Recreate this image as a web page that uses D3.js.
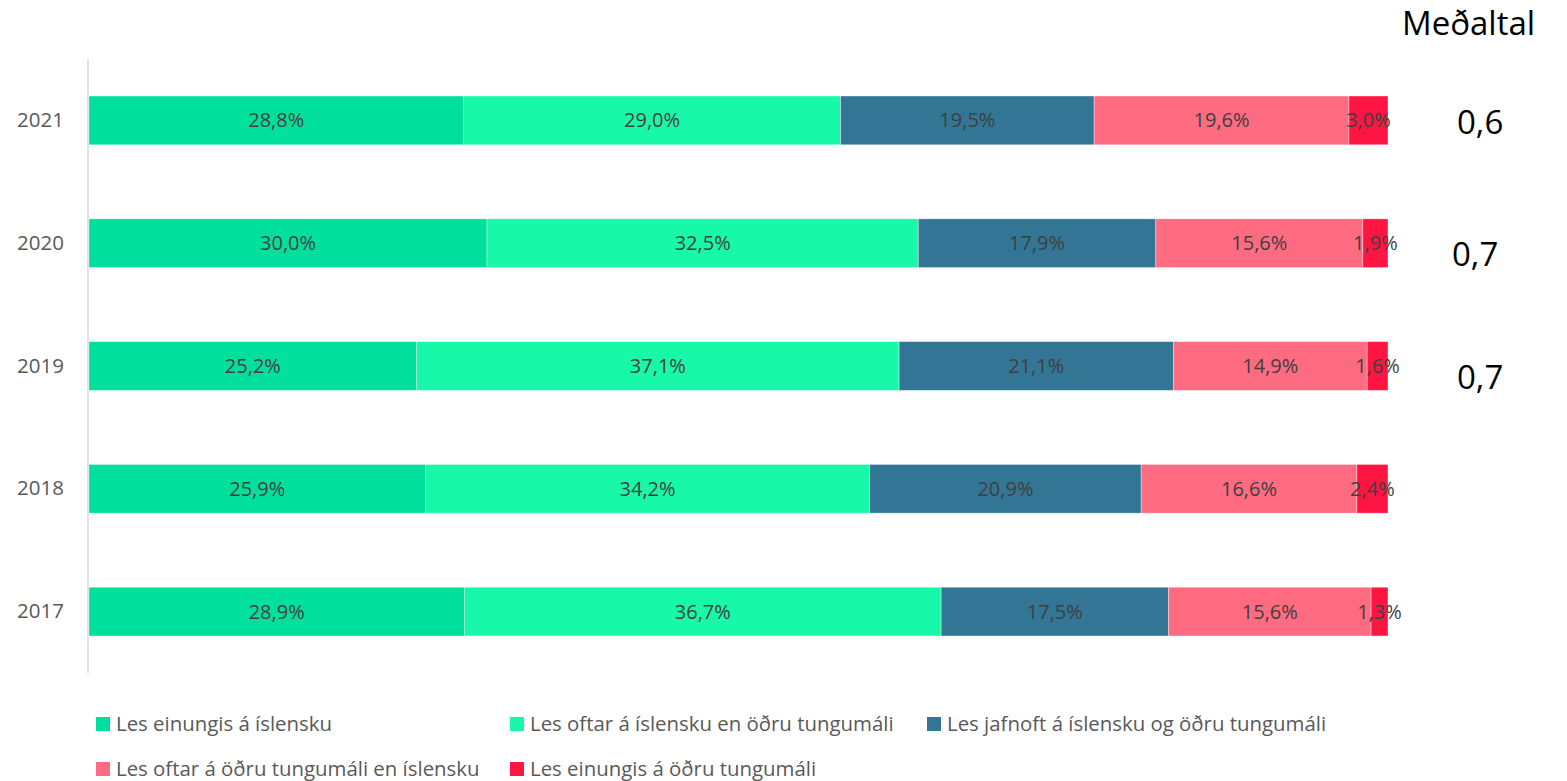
<!DOCTYPE html>
<html>
<head>
<meta charset="utf-8">
<script src="https://cdn.jsdelivr.net/npm/d3@7"></script>
<style>
  html, body { margin: 0; padding: 0; background: #fff; }
  svg { display: block; font-family: "Open Sans", "Noto Sans", sans-serif; }
</style>
</head>
<body>
<svg id="chart" width="1567" height="781"></svg>
<script>
// ---- data ----
const years = ["2021", "2020", "2019", "2018", "2017"];
const seriesNames = [
  "Les einungis á íslensku",
  "Les oftar á íslensku en öðru tungumáli",
  "Les jafnoft á íslensku og öðru tungumáli",
  "Les oftar á öðru tungumáli en íslensku",
  "Les einungis á öðru tungumáli"
];
const einungisIslensku = [28.8, 30.0, 25.2, 25.9, 28.9];
const oftarIslensku    = [29.0, 32.5, 37.1, 34.2, 36.7];
const jafnoft          = [19.5, 17.9, 21.1, 20.9, 17.5];
const oftarOdru        = [19.6, 15.6, 14.9, 16.6, 15.6];
const einungisOdru     = [3.0, 1.9, 1.6, 2.4, 1.3];
const seriesColors = ["#00E09C", "#17F9A9", "#337594", "#FF6B80", "#FF1541"];
const averageTitle = "Meðaltal";
const averageYears = ["2021", "2020", "2019"];
const averageValues = ["0,6", "0,7", "0,7"];

// ---- build ----
const seriesValues = [einungisIslensku, oftarIslensku, jafnoft, oftarOdru, einungisOdru];
const rows = years.map((y, i) => {
  const r = { year: y };
  seriesNames.forEach((s, k) => r[s] = seriesValues[k][i]);
  return r;
});
const stack = d3.stack().keys(seriesNames).offset(d3.stackOffsetExpand);
const stacked = stack(rows);

const svg = d3.select("#chart");
const x = d3.scaleLinear().domain([0, 1]).range([89, 1388]);
const y = d3.scaleBand().domain(years).range([59, 673]).paddingInner(0.603).paddingOuter(0.3015);
const color = d3.scaleOrdinal().domain(seriesNames).range(seriesColors);

// axis line
svg.append("line")
  .attr("x1", 88).attr("x2", 88)
  .attr("y1", 59).attr("y2", 673)
  .attr("stroke", "#d9d9d9").attr("stroke-width", 1.5);

// y labels
const yAxis = d3.axisLeft(y).tickSize(0).tickPadding(24);
const gy = svg.append("g").attr("transform", "translate(88,0)").call(yAxis);
gy.select(".domain").remove();
gy.selectAll("text")
  .attr("fill", "#595959")
  .style("font-size", "20.5px")
  .style("font-family", "'Open Sans', sans-serif");

// bars
const layers = svg.append("g").selectAll("g")
  .data(stacked).join("g")
  .attr("fill", d => color(d.key));

layers.selectAll("rect")
  .data(d => d.map(p => ({ p, key: d.key })))
  .join("rect")
  .attr("x", d => x(d.p[0]))
  .attr("width", d => x(d.p[1]) - x(d.p[0]))
  .attr("y", d => y(d.p.data.year))
  .attr("height", y.bandwidth())
  .attr("stroke", "#ffffff")
  .attr("stroke-opacity", 0.45)
  .attr("stroke-width", 0.8);

// value labels
const fmt = v => v.toFixed(1).replace(".", ",") + "%";
svg.append("g").selectAll("g")
  .data(stacked).join("g")
  .selectAll("text")
  .data(d => d.map(p => ({ p, key: d.key })))
  .join("text")
  .attr("x", d => (x(d.p[0]) + x(d.p[1])) / 2)
  .attr("y", d => y(d.p.data.year) + y.bandwidth() / 2)
  .attr("dy", "0.35em")
  .attr("text-anchor", "middle")
  .attr("fill", "#404040")
  .style("font-size", "20px")
  .text(d => fmt(d.p.data[d.key]));

// Meðaltal annotation
svg.append("text")
  .attr("x", 1402).attr("y", 35)
  .attr("fill", "#000")
  .style("font-size", "33px")
  .text(averageTitle);

const avgNudge = [{dx: 0, dy: 14}, {dx: -5, dy: 23}, {dx: 0, dy: 23}];
svg.append("g").selectAll("text")
  .data(averageValues).join("text")
  .attr("x", (d, i) => 1457 + avgNudge[i].dx)
  .attr("y", (d, i) => y(averageYears[i]) + y.bandwidth() / 2 + avgNudge[i].dy)
  .attr("fill", "#000")
  .style("font-size", "33px")
  .text(d => d);

// legend
const legendCols = [96, 510, 927];
const legendRows = [717, 762];
const lg = svg.append("g").selectAll("g")
  .data(seriesNames).join("g")
  .attr("transform", (d, i) => `translate(${legendCols[i % 3]},${legendRows[Math.floor(i / 3)]})`);
lg.append("rect")
  .attr("width", 14).attr("height", 14)
  .attr("fill", d => color(d));
lg.append("text")
  .attr("x", 20).attr("y", 14)
  .attr("fill", "#595959")
  .style("font-size", "20.4px")
  .text(d => d);
</script>
</body>
</html>
